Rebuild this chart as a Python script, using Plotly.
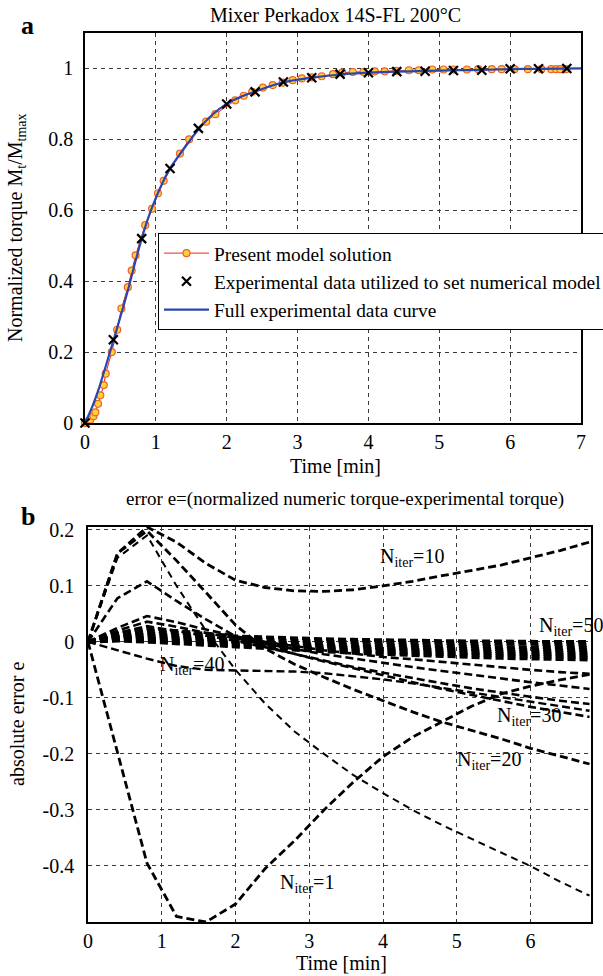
import plotly.graph_objects as go

W, H = 603, 976
FONT = "Liberation Serif, Times New Roman, serif"

# ---------------- panel a data ----------------
MODEL_T = [0, 0.04, 0.076, 0.119, 0.146, 0.184, 0.216, 0.265, 0.292, 0.378, 0.454, 0.514,
           0.605, 0.659, 0.714, 0.85, 0.946, 1.03, 1.11, 1.34, 1.47, 1.71, 1.84, 2.12, 2.24,
           2.36, 2.51, 2.65, 2.79, 2.93, 3.06, 3.2, 3.34, 3.5, 3.63, 3.78, 3.93, 4.09, 4.23,
           4.39, 4.57, 4.71, 4.9, 5.06, 5.2, 5.39, 5.55, 5.74, 5.88, 6.06, 6.25, 6.44, 6.58,
           6.65, 6.71, 6.79]
MODEL_M = [0, 0.004, 0.009, 0.019, 0.03, 0.054, 0.078, 0.107, 0.139, 0.2, 0.263, 0.323,
           0.383, 0.43, 0.473, 0.558, 0.604, 0.648, 0.683, 0.76, 0.8, 0.85, 0.871, 0.91, 0.923,
           0.934, 0.946, 0.953, 0.96, 0.967, 0.972, 0.975, 0.978, 0.984, 0.988, 0.99, 0.99,
           0.992, 0.992, 0.993, 0.995, 0.995, 0.997, 0.997, 0.997, 0.997, 0.998, 0.998, 0.998,
           0.998, 0.998, 0.998, 0.998, 0.998, 0.998, 0.998]

EXP_T = [0, 0.4, 0.8, 1.2, 1.6, 2.0, 2.4, 2.8, 3.2, 3.6, 4.0, 4.4, 4.8, 5.2, 5.6, 6.0, 6.4, 6.8]
EXP_M = [0, 0.235, 0.52, 0.718, 0.831, 0.90, 0.934, 0.962, 0.974, 0.984, 0.988, 0.991,
         0.992, 0.994, 0.995, 0.999, 0.999, 1.0]

FULL_T = [0, 0.1, 0.2, 0.3, 0.4, 0.5, 0.6, 0.7, 0.8, 0.9, 1.0, 1.1, 1.2, 1.4, 1.6, 1.8, 2.0,
          2.2, 2.4, 2.8, 3.2, 3.6, 4.0, 4.4, 4.8, 5.2, 5.6, 6.0, 6.4, 7.0]
FULL_M = [0, 0.045, 0.1, 0.165, 0.232, 0.3, 0.37, 0.447, 0.52, 0.583, 0.635, 0.68, 0.718,
          0.775, 0.828, 0.87, 0.9, 0.92, 0.935, 0.961, 0.974, 0.983, 0.988, 0.991, 0.993,
          0.995, 0.996, 0.998, 0.999, 1.0]

A_XTICKS = [0, 1, 2, 3, 4, 5, 6, 7]
A_YTICKS = [0, 0.2, 0.4, 0.6, 0.8, 1.0]
A_YTEXT = ["0", "0.2", "0.4", "0.6", "0.8", "1"]

# ---------------- panel b data ----------------
TIME = [0, 0.4, 0.8, 1.2, 1.6, 2.0, 2.4, 2.8, 3.2, 3.6, 4.0, 4.4, 4.8, 5.2, 5.6, 6.0, 6.4, 6.8]

ERR_N1 = [0, -0.2, -0.395, -0.49, -0.5, -0.468, -0.405, -0.355, -0.3, -0.25, -0.205, -0.17,
          -0.142, -0.115, -0.093, -0.079, -0.068, -0.058]
ERR_THIN = [0, 0.15, 0.19, 0.1, 0.02, -0.05, -0.11, -0.16, -0.2, -0.238, -0.27, -0.3,
            -0.327, -0.352, -0.376, -0.4, -0.428, -0.453]
ERR_N10 = [0, 0.158, 0.205, 0.178, 0.14, 0.11, 0.097, 0.091, 0.09, 0.093, 0.1, 0.108,
           0.118, 0.127, 0.137, 0.15, 0.163, 0.178]
ERR_N20 = [0, 0.158, 0.198, 0.145, 0.088, 0.03, -0.012, -0.04, -0.063, -0.085, -0.105,
           -0.125, -0.143, -0.158, -0.173, -0.19, -0.204, -0.218]
ERR_N30 = [0, 0.078, 0.108, 0.073, 0.04, 0.01, -0.008, -0.022, -0.035, -0.047, -0.06,
           -0.072, -0.084, -0.095, -0.106, -0.116, -0.125, -0.134]
ERR_C046 = [0, 0.025, 0.046, 0.035, 0.022, 0.01, 0.0, -0.008, -0.015, -0.021, -0.027,
            -0.031, -0.036, -0.041, -0.046, -0.05, -0.054, -0.057]
ERR_C036 = [0, 0.02, 0.036, 0.027, 0.016, 0.006, -0.004, -0.013, -0.022, -0.03, -0.038,
            -0.045, -0.052, -0.059, -0.066, -0.072, -0.078, -0.084]
ERR_C028 = [0, 0.016, 0.028, 0.02, 0.011, 0.002, -0.01, -0.022, -0.034, -0.045, -0.055,
            -0.065, -0.074, -0.083, -0.091, -0.098, -0.105, -0.111]
ERR_N40 = [0, -0.015, -0.03, -0.043, -0.05, -0.051, -0.052, -0.053, -0.056, -0.061, -0.067,
           -0.074, -0.082, -0.09, -0.098, -0.106, -0.114, -0.123]
BAND_1 = [0, 0.015, 0.024, 0.02, 0.015, 0.01, 0.008, 0.006, 0.005, 0.004, 0.003, 0.002,
          0.002, 0.001, 0.001, 0.0, 0.0, 0.0]
BAND_2 = [0, 0.013, 0.02, 0.016, 0.012, 0.007, 0.004, 0.002, 0.001, 0.0, -0.001, -0.002,
          -0.003, -0.003, -0.004, -0.004, -0.005, -0.005]
BAND_3 = [0, 0.011, 0.016, 0.012, 0.008, 0.004, 0.0, -0.002, -0.004, -0.005, -0.006, -0.007,
          -0.008, -0.009, -0.009, -0.01, -0.01, -0.01]
BAND_4 = [0, 0.009, 0.012, 0.008, 0.004, 0.0, -0.003, -0.005, -0.007, -0.009, -0.01, -0.011,
          -0.012, -0.013, -0.014, -0.014, -0.015, -0.015]
BAND_5 = [0, 0.007, 0.008, 0.005, 0.001, -0.002, -0.005, -0.007, -0.009, -0.011, -0.013,
          -0.014, -0.015, -0.016, -0.017, -0.018, -0.019, -0.02]
BAND_6 = [0, 0.005, 0.005, 0.002, -0.001, -0.004, -0.007, -0.009, -0.012, -0.014, -0.016,
          -0.017, -0.019, -0.02, -0.021, -0.022, -0.023, -0.024]
BAND_7 = [0, 0.003, 0.002, -0.001, -0.003, -0.006, -0.009, -0.012, -0.014, -0.017, -0.019,
          -0.021, -0.022, -0.024, -0.025, -0.026, -0.027, -0.028]
BAND_8 = [0, 0.002, 0.0, -0.003, -0.005, -0.008, -0.011, -0.014, -0.017, -0.02, -0.022,
          -0.024, -0.026, -0.027, -0.029, -0.03, -0.031, -0.032]

B_XTICKS = [0, 1, 2, 3, 4, 5, 6]
B_YTICKS = [-0.4, -0.3, -0.2, -0.1, 0, 0.1, 0.2]
B_YTEXT = ["-0.4", "-0.3", "-0.2", "-0.1", "0", "0.1", "0.2"]

LABELS = [("10", 3.93, 0.15), ("50", 6.09, 0.028), ("40", 0.95, -0.042),
          ("30", 5.52, -0.134), ("20", 4.97, -0.212), ("1", 2.58, -0.432)]

# ---------------- figure ----------------
fig = go.Figure()

fig.add_trace(go.Scatter(
    x=MODEL_T, y=MODEL_M, mode="lines+markers", name="Present model solution",
    line=dict(color="#e8281e", width=1),
    marker=dict(symbol="circle", size=7, color="#f8d23a", line=dict(color="#f0602a", width=1.2)),
    xaxis="x", yaxis="y", cliponaxis=False, legendrank=1))
fig.add_trace(go.Scatter(
    x=FULL_T, y=FULL_M, mode="lines", name="Full experimental data curve",
    line=dict(color="#2a45b0", width=2.2, shape="spline", smoothing=0.6),
    xaxis="x", yaxis="y", legendrank=3))
fig.add_trace(go.Scatter(
    x=EXP_T, y=EXP_M, mode="markers", name="Experimental data utilized to set numerical model",
    marker=dict(symbol="x-thin", size=9, color="black", line=dict(color="black", width=2.2)),
    xaxis="x", yaxis="y", cliponaxis=False, legendrank=2))

THICK = "8px,4px"
curves = [
    (ERR_THIN, 2.0, "7px,5px"),
    (ERR_N1, 2.8, THICK), (ERR_N10, 2.8, THICK), (ERR_N20, 2.8, THICK),
    (ERR_N30, 2.6, THICK), (ERR_C046, 2.6, THICK), (ERR_C036, 2.6, THICK),
    (ERR_C028, 2.6, THICK), (ERR_N40, 2.4, THICK),
    (BAND_1, 3.5, THICK), (BAND_2, 3.5, THICK), (BAND_3, 3.5, THICK), (BAND_4, 3.5, THICK),
    (BAND_5, 3.5, THICK), (BAND_6, 3.5, THICK), (BAND_7, 3.5, THICK), (BAND_8, 3.5, THICK),
]
for vals, w, d in curves:
    fig.add_trace(go.Scatter(x=TIME, y=vals, mode="lines", showlegend=False,
                             line=dict(color="black", width=w, dash=d),
                             xaxis="x2", yaxis="y2", hoverinfo="skip"))

FS = 20
tickfont = dict(family=FONT, size=FS, color="black")
common = dict(showline=True, mirror=True, linecolor="black", linewidth=1.5,
              showgrid=True, gridcolor="#3a3a3a", gridwidth=1, griddash="4px,4px",
              zeroline=False, ticks="", tickfont=tickfont)

fig.update_layout(
    width=W, height=H, margin=dict(l=0, r=0, t=0, b=0, pad=0, autoexpand=False),
    paper_bgcolor="white", plot_bgcolor="white",
    showlegend=True,
    legend=dict(x=158 / W, y=1 - 233 / H, xanchor="left", yanchor="top",
                bgcolor="white", bordercolor="black", borderwidth=1,
                font=dict(family=FONT, size=19.4, color="black"),
                itemwidth=45, tracegroupgap=0),
    xaxis=dict(domain=[85 / W, 581 / W], range=[0, 7], anchor="y",
               tickvals=A_XTICKS, ticklabelstandoff=0, **common),
    yaxis=dict(domain=[1 - 423 / H, 1 - 33 / H], range=[0, 1.1], anchor="x",
               tickvals=A_YTICKS, ticktext=A_YTEXT, ticklabelstandoff=6, **common),
    xaxis2=dict(domain=[88 / W, 591 / W], range=[0, 6.82], anchor="y2",
                tickvals=B_XTICKS, ticklabelstandoff=0, **common),
    yaxis2=dict(domain=[1 - 922 / H, 1 - 527 / H], range=[-0.5, 0.205], anchor="x2",
                tickvals=B_YTICKS, ticktext=B_YTEXT, ticklabelstandoff=8, **common),
)

ann = []
def paper_text(text, x, y, size=FS, bold=False, angle=0):
    t = "<b>%s</b>" % text if bold else text
    ann.append(dict(text=t, x=x / W, y=1 - y / H, xref="paper", yref="paper",
                    showarrow=False, xanchor="center", yanchor="middle", textangle=angle,
                    font=dict(family=FONT, size=size, color="black")))

paper_text("a", 28, 25, size=26, bold=True)
paper_text("Mixer Perkadox 14S-FL 200°C", 335, 15)
paper_text("Time [min]", 335, 466)
paper_text("Normalized torque M<sub>t</sub>/M<sub>tmax</sub>", 17, 228, angle=-90)
paper_text("b", 28, 516, size=26, bold=True)
paper_text("error e=(normalized numeric torque-experimental torque)", 345, 499, size=19)
paper_text("Time [min]", 341, 963)
paper_text("absolute error e", 17, 724, angle=-90)

for n, tx, ey in LABELS:
    ann.append(dict(text="N<sub>iter</sub>=%s" % n, x=tx, y=ey, xref="x2", yref="y2",
                    showarrow=False, xanchor="left", yanchor="middle",
                    font=dict(family=FONT, size=FS, color="black")))

fig.update_layout(annotations=ann)
fig.write_html("out.html",
               config={"displayModeBar": False},
               post_script="document.body.style.margin='0';document.body.style.overflow='hidden';")
